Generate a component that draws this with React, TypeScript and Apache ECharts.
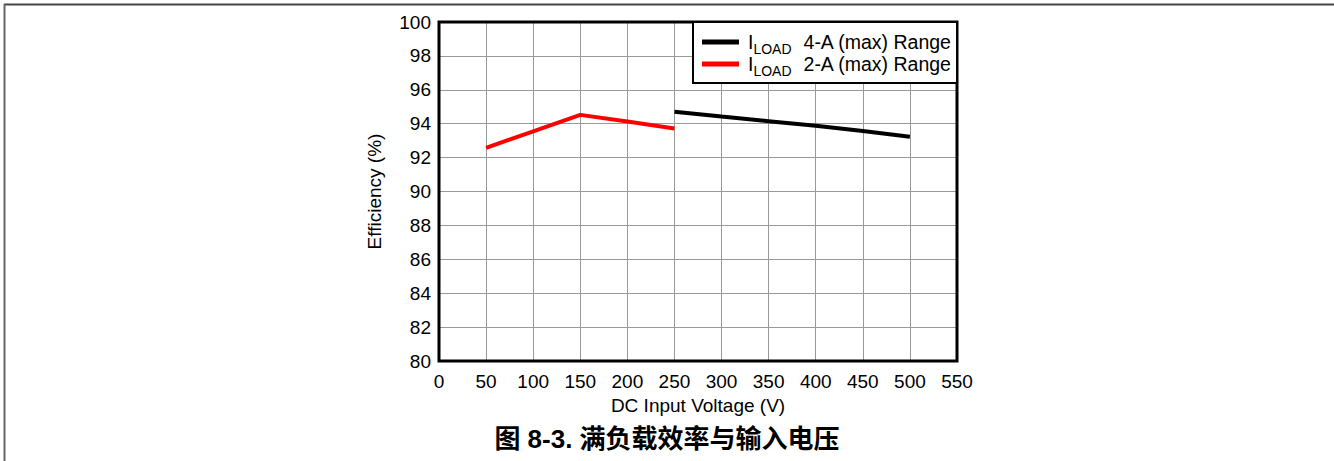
import React, { useEffect, useRef } from "react";
import * as echarts from "echarts";

const xTicks = [0, 50, 100, 150, 200, 250, 300, 350, 400, 450, 500, 550];
const yTicks = [80, 82, 84, 86, 88, 90, 92, 94, 96, 98, 100];

const range4AVoltage = [250, 300, 350, 400, 450, 500];
const range4AEff = [94.7, 94.42, 94.15, 93.88, 93.57, 93.23];

const range2AVoltage = [50, 100, 150, 200, 250];
const range2AEff = [92.58, 93.55, 94.52, 94.13, 93.72];

const seriesNames = ["4-A (max) Range", "2-A (max) Range"];
const seriesColors = ["#000000", "#ff0000"];

const xTitle = "DC Input Voltage (V)";
const yTitle = "Efficiency (%)";
const caption = "图 8-3. 满负载效率与输入电压";

export default function App() {
  const ref = useRef<HTMLDivElement>(null);
  useEffect(() => {
    if (!ref.current) return;
    const chart = echarts.init(ref.current, undefined, { renderer: "svg" });
    const font = "Liberation Sans, Arial, sans-serif";
    chart.setOption({
      animation: false,
      backgroundColor: "#ffffff",
      title: {
        text: caption,
        left: "center",
        top: 421,
        textStyle: {
          fontFamily: "'Liberation Sans', 'Noto Sans CJK SC', sans-serif",
          fontWeight: "bold",
          fontSize: 26,
          color: "#000",
        },
      },
      grid: {
        left: 439,
        top: 22,
        width: 518,
        height: 339,
        show: true,
        borderColor: "#000",
        borderWidth: 3,
        backgroundColor: "transparent",
        z: 3,
      },
      legend: {
        orient: "vertical",
        left: 693,
        top: 22,
        data: seriesNames,
        icon: "rect",
        itemWidth: 37,
        itemHeight: 5,
        itemGap: -2,
        padding: [10, 5, 5, 9],
        borderColor: "#000",
        borderWidth: 2,
        backgroundColor: "#fff",
        formatter: (name: string) => `{i|I}{s|LOAD}{g| }{m|${name}}`,
        textStyle: {
          fontFamily: font,
          fontSize: 19.5,
          color: "#000",
          rich: {
            i: { fontFamily: font, fontSize: 19.5, lineHeight: 20, color: "#000", verticalAlign: "bottom", padding: [0, 0, 0, 4] },
            g: { fontFamily: font, fontSize: 19.5, lineHeight: 20, width: 12, verticalAlign: "bottom" },
            m: { fontFamily: font, fontSize: 19.5, lineHeight: 20, color: "#000", verticalAlign: "bottom" },
            s: { fontFamily: font, fontSize: 14, lineHeight: 13, color: "#000", verticalAlign: "bottom", padding: [0, 0, -4, 0] },
          },
        },
      },
      xAxis: {
        type: "value",
        min: xTicks[0],
        max: xTicks[xTicks.length - 1],
        interval: 50,
        name: xTitle,
        nameLocation: "middle",
        nameGap: 32,
        nameTextStyle: { fontFamily: font, fontSize: 19, color: "#000" },
        axisLine: { show: false },
        axisTick: { show: false },
        axisLabel: { fontFamily: font, fontSize: 19, color: "#000", margin: 11 },
        splitLine: { show: true, lineStyle: { color: "#999999", width: 1 } },
      },
      yAxis: {
        type: "value",
        min: yTicks[0],
        max: yTicks[yTicks.length - 1],
        interval: 2,
        name: yTitle,
        nameLocation: "middle",
        nameGap: 55,
        nameTextStyle: { fontFamily: font, fontSize: 19, color: "#000" },
        axisLine: { show: false },
        axisTick: { show: false },
        axisLabel: { fontFamily: font, fontSize: 19, color: "#000", margin: 8 },
        splitLine: { show: true, lineStyle: { color: "#999999", width: 1 } },
      },
      series: [
        {
          name: seriesNames[0],
          type: "line",
          data: range4AVoltage.map((v, i) => [v, range4AEff[i]]),
          symbol: "none",
          lineStyle: { color: seriesColors[0], width: 4 },
          itemStyle: { color: seriesColors[0] },
          z: 4,
        },
        {
          name: seriesNames[1],
          type: "line",
          data: range2AVoltage.map((v, i) => [v, range2AEff[i]]),
          symbol: "none",
          lineStyle: { color: seriesColors[1], width: 4 },
          itemStyle: { color: seriesColors[1] },
          z: 4,
        },
      ],
      graphic: [
        { type: "line", shape: { x1: 4, y1: 4.5, x2: 1334, y2: 4.5 }, style: { stroke: "#444", lineWidth: 2 } },
        { type: "line", shape: { x1: 4.5, y1: 4, x2: 4.5, y2: 461 }, style: { stroke: "#666", lineWidth: 2 } },
      ],
    });
    return () => chart.dispose();
  }, []);
  return (
    <div
      ref={ref}
      style={{ position: "fixed", left: 0, top: 0, width: 1334, height: 461 }}
    />
  );
}
